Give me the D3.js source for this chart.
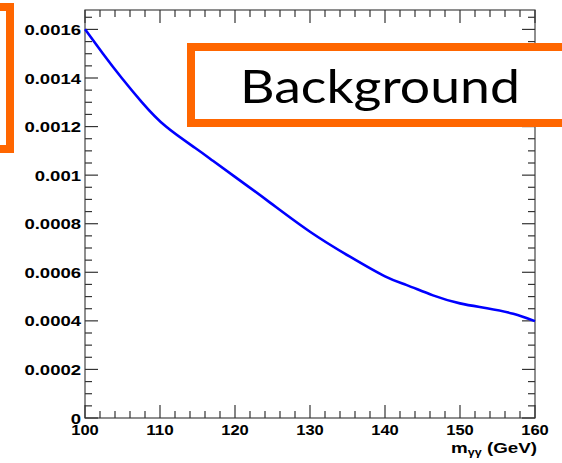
<!DOCTYPE html>
<html lang="en">
<head>
    <meta charset="UTF-8">
    <title>Background</title>
    <style>
        body { margin: 0; background: #fff; }
        svg { display: block; }
    </style>
</head>
<script src="https://d3js.org/d3.v7.min.js"></script>
<body>
<svg width="562" height="463" class="bkg"></svg>

<script>
    // m_gg points
    var masses = [100, 102.4, 104.9, 107.6, 110.8, 114.7, 117.1, 120, 124.67, 130, 135.33, 140, 142.9, 146.4, 150, 153.6, 157.1, 160];
    var values = [0.001601, 0.0015, 0.0014, 0.0013, 0.0012, 0.001112, 0.001058, 0.000993, 0.000887, 0.000767, 0.000664, 0.000583, 0.000547, 0.000505, 0.000472, 0.000452, 0.000429, 0.000399];
    var xTicks = [100, 110, 120, 130, 140, 150, 160];
    var yTicks = [0, 0.0002, 0.0004, 0.0006, 0.0008, 0.001, 0.0012, 0.0014, 0.0016];
    var yLabels = ["0", "0.0002", "0.0004", "0.0006", "0.0008", "0.001", "0.0012", "0.0014", "0.0016"];

    var svg = d3.select("svg.bkg"),
        frameL = 85, frameR = 535, frameT = 10, frameB = 418;

    var xScale = d3.scaleLinear().domain([100, 160]).range([frameL, frameR]),
        yScale = d3.scaleLinear().domain([0, 0.00168]).range([frameB, frameT]);

    var xMinor = d3.range(100, 160.01, 2),
        yMinor = d3.range(0, 0.00168, 0.00005);

    // ROOT draws the labels wide: width wanted per character
    function labelWidth(s, digit) {
        var w = 0;
        s.split("").forEach(function (c) { w += (c === ".") ? digit / 2 : digit; });
        return w;
    }

    // stretch a text node horizontally to a given width around its anchor
    function stretch(sel, x, y, w) {
        var nat = sel.node().getComputedTextLength();
        sel.attr("x", null).attr("y", null)
            .attr("transform", "translate(" + x + "," + y + ") scale(" + (w / nat) + ",1)");
    }

    var g = svg.append("g");

    // frame
    g.append("rect")
        .attr("x", frameL).attr("y", frameT)
        .attr("width", frameR - frameL).attr("height", frameB - frameT)
        .attr("fill", "none").attr("stroke", "#444").attr("stroke-width", 1.2);

    // ticks on all four sides, pointing inwards
    function tick(x1, y1, x2, y2) {
        g.append("line")
            .attr("x1", x1).attr("y1", y1).attr("x2", x2).attr("y2", y2)
            .attr("stroke", "#333").attr("stroke-width", 1.2);
    }
    xMinor.forEach(function (d) {
        var major = xTicks.indexOf(Math.round(d)) >= 0;
        var len = major ? 13 : 7;
        tick(xScale(d), frameB, xScale(d), frameB - len);
        tick(xScale(d), frameT, xScale(d), frameT + len);
    });
    yMinor.forEach(function (d, i) {
        var len = (i % 4 === 0) ? 13 : 7;
        tick(frameL, yScale(d), frameL + len, yScale(d));
        tick(frameR, yScale(d), frameR - len, yScale(d));
    });

    // y labels
    yTicks.forEach(function (d, i) {
        var t = g.append("text")
            .attr("text-anchor", "end")
            .attr("font-family", "'Liberation Sans', Arial, sans-serif")
            .attr("font-weight", "bold")
            .attr("font-size", "15.5px")
            .text(yLabels[i]);
        stretch(t, 81, yScale(d) + 5.6, labelWidth(yLabels[i], 10.3));
    });

    // x labels
    xTicks.forEach(function (d) {
        var t = g.append("text")
            .attr("text-anchor", "middle")
            .attr("font-family", "'Liberation Sans', Arial, sans-serif")
            .attr("font-weight", "bold")
            .attr("font-size", "14.5px")
            .text(d);
        stretch(t, xScale(d), 435, labelWidth(String(d), 9.2));
    });

    // axis title
    var title = g.append("text")
        .attr("text-anchor", "end")
        .attr("font-family", "'Liberation Sans', Arial, sans-serif")
        .attr("font-weight", "bold")
        .attr("font-size", "15px");
    title.append("tspan").text("m");
    title.append("tspan").attr("font-size", "10px").attr("dy", 3).text("γγ");
    title.append("tspan").attr("dy", -3).text(" (GeV)");
    stretch(title, 537, 453, 86);

    // curve
    var line = d3.line()
        .x(function (d, i) { return xScale(masses[i]); })
        .y(function (d) { return yScale(d); })
        .curve(d3.curveNatural);

    g.append("path")
        .datum(values)
        .attr("d", line)
        .attr("fill", "none")
        .attr("stroke", "#0000ff")
        .attr("stroke-width", 2.6);

    // orange boxes on top
    svg.append("rect")
        .attr("x", -40).attr("y", 7)
        .attr("width", 50).attr("height", 142)
        .attr("fill", "none")
        .attr("stroke", "#ff6600").attr("stroke-width", 8);

    svg.append("rect")
        .attr("x", 191).attr("y", 47)
        .attr("width", 420).attr("height", 76)
        .attr("fill", "#fff")
        .attr("stroke", "#ff6600").attr("stroke-width", 8);

    var bkg = svg.append("text")
        .attr("font-family", "Lato, DejaVu Sans, sans-serif")
        .attr("font-size", "47px")
        .attr("fill", "#000")
        .text("Background");
    stretch(bkg, 240, 103, 280);
</script>
</body>
</html>
